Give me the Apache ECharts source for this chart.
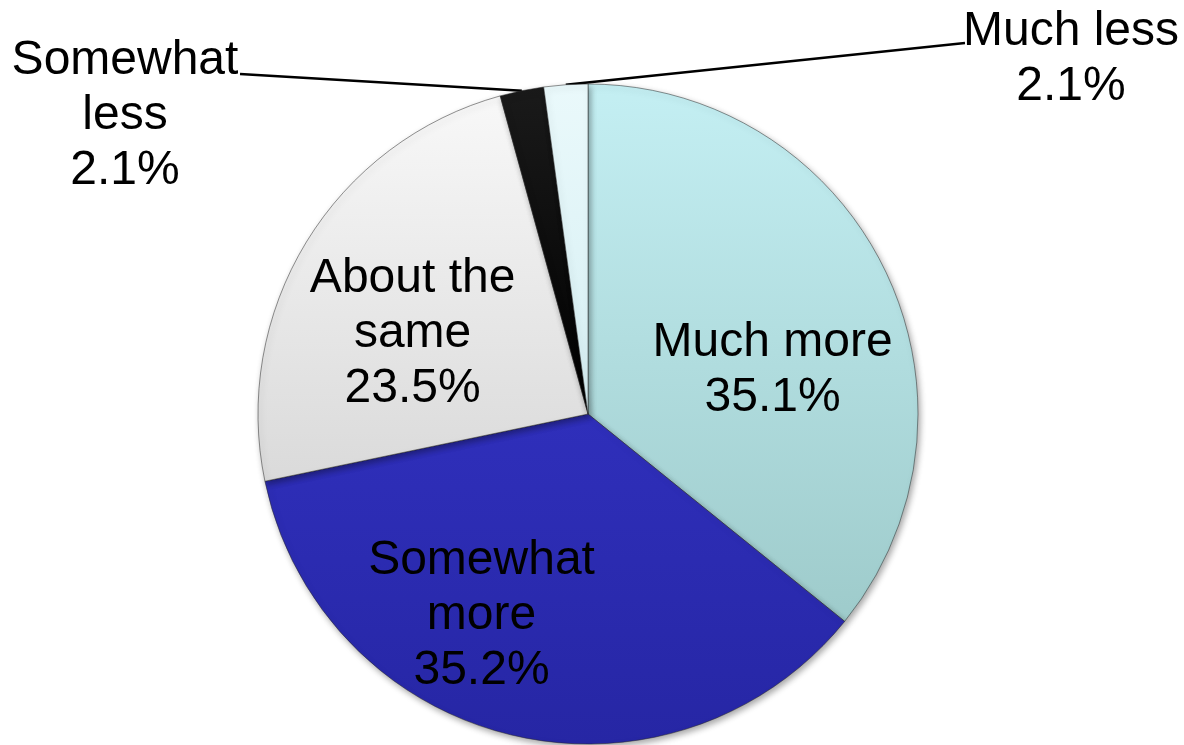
<!DOCTYPE html>
<html>
<head>
<meta charset="utf-8">
<title>Pie chart</title>
<script src="https://cdn.jsdelivr.net/npm/echarts@6/dist/echarts.min.js"></script>
<style>
  html, body { margin: 0; padding: 0; background: #ffffff; }
  #chart { width: 1184px; height: 745px; }
</style>
</head>
<body>
<div id="chart"></div>
<script>
// Answer categories, clockwise from 12 o'clock
const categories = ['Much more', 'Somewhat more', 'About the same', 'Somewhat less', 'Much less'];
// Share of responses, percent
const values = [35.1, 35.2, 23.5, 2.1, 2.1];
// Label text lines for each category
const labelNames = ['Much more', 'Somewhat\nmore', 'About the\nsame', 'Somewhat\nless', 'Much less'];

const grad = (c0, c1) => new echarts.graphic.LinearGradient(0, 0, 0, 1, [
  { offset: 0, color: c0 }, { offset: 1, color: c1 }
]);
const sliceColors = [
  grad('#c4eff3', '#9ecbcb'),
  grad('#2f2fbb', '#2626a4'),
  grad('#f8f8f8', '#dadada'),
  grad('#1a1a1a', '#000000'),
  grad('#eaf9fb', '#d6eff3')
];

// Label shifts for the labels drawn on the slices
const insideShift = { 0: [33, 29], 1: [-67, 38], 2: [-32, 7] };
// Placement for the labels drawn beside the pie, with the end of each leader line
const outsidePlace = {
  3: { x: 125, y: 116, end: [240, 74] },
  4: { x: 1071, y: 59, end: [965, 43] }
};

const data = categories.map((name, i) => {
  const outside = i >= 3;
  return {
    name: name,
    value: values[i],
    itemStyle: { color: sliceColors[i] },
    label: {
      position: outside ? 'outside' : 'inside',
      formatter: () => labelNames[i] + '\n' + values[i].toFixed(1) + '%'
    },
    labelLine: { show: outside }
  };
});

const chart = echarts.init(document.getElementById('chart'), null, { renderer: 'canvas' });
chart.setOption({
  animation: false,
  backgroundColor: '#ffffff',
  series: [{
    type: 'pie',
    center: [588, 414],
    radius: 330,
    startAngle: 90,
    clockwise: true,
    avoidLabelOverlap: false,
    data: data,
    itemStyle: {
      borderColor: 'rgba(40,40,40,0.5)',
      borderWidth: 1,
      shadowBlur: 6,
      shadowOffsetX: 2,
      shadowOffsetY: 3,
      shadowColor: 'rgba(0,0,0,0.35)'
    },
    label: {
      show: true,
      color: '#000000',
      fontFamily: '"Liberation Sans", Arial, sans-serif',
      fontSize: 48,
      lineHeight: 55,
      align: 'center'
    },
    labelLine: {
      length: 20,
      length2: 20,
      lineStyle: { color: '#000000', width: 2.5 }
    },
    emphasis: { disabled: true },
    labelLayout: function (params) {
      const i = params.dataIndex;
      if (insideShift[i]) {
        return { dx: insideShift[i][0], dy: insideShift[i][1] };
      }
      const p = outsidePlace[i];
      const out = { x: p.x, y: p.y, align: 'center', verticalAlign: 'middle' };
      if (params.labelLinePoints && params.labelLinePoints.length) {
        out.labelLinePoints = [params.labelLinePoints[0].slice(), p.end];
      }
      return out;
    }
  }]
});
</script>
</body>
</html>
